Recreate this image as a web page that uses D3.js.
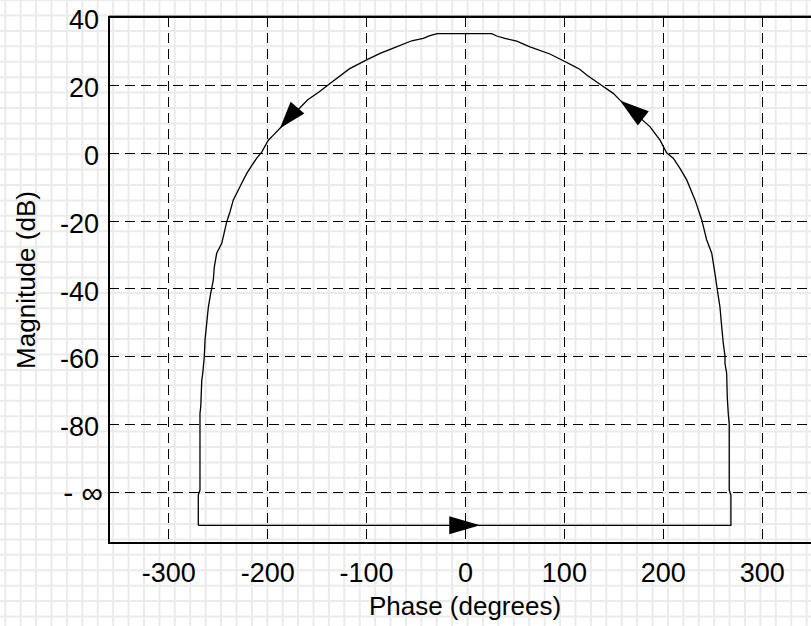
<!DOCTYPE html>
<html>
<head>
<meta charset="utf-8">
<script src="https://cdn.jsdelivr.net/npm/d3@7"></script>
<style>
	body { margin: 0; background: #ffffff; }
	svg { display: block; }
	text { font-family: "Liberation Sans", Arial, sans-serif; }
</style>
</head>
<body>
<div id="containerNichols"></div>
<script>

// tick values and labels for both axes
var xTicks = [-300, -200, -100, 0, 100, 200, 300];
var xTickLabels = ["-300", "-200", "-100", "0", "100", "200", "300"];
var yTicks = [40, 20, 0, -20, -40, -60, -80, -100];
var yTickLabels = ["40", "20", "0", "-20", "-40", "-60", "-80", "-\u00a0\u221e"];

// nichols contour (starts bottom left, runs to the right, up, over the top and down)
var phase = [-269.7, 268.9, 268.9, 267.2, 267.2, 266.2, 265.2, 264.6, 262.9, 262.9, 261.2,
	259.6, 257.8, 255.2, 252.8, 249.5, 244.4, 239.4, 232.6, 224.2, 217.4, 210.6, 203.9,
	197.2, 187.0, 156.7, 149.9, 136.5, 123.1, 116.0, 109.5, 99.4, 85.9, 65.7, 52.3, 40.4,
	32.1, 27.0, -28.0, -35.4, -42.2, -53.9, -72.5, -85.9, -100.0, -117.0, -136.5, -148.0,
	-159.0, -187.1, -193.8, -198.9, -205.6, -210.6, -215.7, -220.7, -225.8, -234.3, -237.6,
	-241.0, -244.4, -246.0, -251.1, -253.5, -254.5, -257.1, -259.5, -261.2, -262.9, -263.6,
	-265.2, -266.2, -267.2, -268.0, -268.0, -269.7, -269.7];
var magnitude = [-109.8, -109.8, -100.9, -99.4, -79.9, -76.8, -71.9, -65.0, -62.1, -59.9, -56.2,
	-51.3, -45.4, -40.5, -35.6, -29.6, -25.7, -19.8, -13.9, -8.0, -4.6, -1.6, 0.0,
	3.7, 7.7, 15.5, 17.5, 20.2, 22.9, 24.6, 25.6, 27.1, 29.1, 31.2, 32.9, 33.7,
	34.4, 35.1, 35.1, 34.5, 33.7, 33.0, 30.8, 29.3, 27.3, 24.7, 20.4, 17.8,
	15.6, 7.2, 5.2, 3.7, 0.2, -1.6, -3.8, -6.1, -9.0, -13.9, -17.4,
	-20.4, -24.7, -26.7, -29.6, -33.6, -37.5, -41.4, -45.4, -50.3, -55.2, -59.9,
	-65.0, -67.0, -74.8, -76.8, -99.4, -100.9, -109.8];

// direction arrows on the contour: tail (base centre) and tip
var arrowTailPhase = [-15.9, 180.3, -169.4];
var arrowTailMag = [-109.8, 10.1, 13.3];
var arrowTipPhase = [15.2, 156.7, -187.1];
var arrowTipMag = [-109.8, 15.4, 7.2];

function drawNichols() {

	// characteristics for SVG element
	var width = 811;
	var height = 626;
	var leftMargin = 109;
	var rightEdge = 821;
	var topMargin = 17;
	var bottomEdge = 543;
	var paperStep = 15.41;

	var svg = d3.select("#containerNichols")
		.append("svg")
		.attr("width", width)
		.attr("height", height);

	// graph paper in the background
	var paper = svg.append("g")
		.attr("stroke", "#ebebeb")
		.attr("stroke-width", 2);
	paper.selectAll(".vpaper")
		.data(d3.range(5.3, width, paperStep))
		.enter()
		.append("line")
		.attr("x1", function(d) { return d; })
		.attr("x2", function(d) { return d; })
		.attr("y1", 0)
		.attr("y2", height);
	paper.selectAll(".hpaper")
		.data(d3.range(0.1, height, paperStep))
		.enter()
		.append("line")
		.attr("x1", 0)
		.attr("x2", width)
		.attr("y1", function(d) { return d; })
		.attr("y2", function(d) { return d; });

	// scales
	var x = d3.scaleLinear()
		.domain([-360, 360])
		.range([leftMargin, rightEdge]);
	var y = d3.scaleLinear()
		.domain([-115, 40])
		.range([bottomEdge, topMargin]);

	// dashed grid lines
	var grid = svg.append("g")
		.attr("stroke", "#000")
		.attr("stroke-width", 1)
		.attr("stroke-dasharray", "10,6")
		.attr("shape-rendering", "crispEdges");
	grid.selectAll(".xgrid")
		.data(xTicks)
		.enter()
		.append("line")
		.attr("x1", function(d) { return Math.round(x(d)) + 0.5; })
		.attr("x2", function(d) { return Math.round(x(d)) + 0.5; })
		.attr("y1", topMargin)
		.attr("y2", bottomEdge);
	grid.selectAll(".ygrid")
		.data(yTicks)
		.enter()
		.append("line")
		.attr("x1", leftMargin)
		.attr("x2", rightEdge)
		.attr("y1", function(d) { return Math.round(y(d)) + 0.5; })
		.attr("y2", function(d) { return Math.round(y(d)) + 0.5; });

	// faint double edge along the top of the box
	svg.append("line")
		.attr("x1", leftMargin)
		.attr("x2", width)
		.attr("y1", topMargin - 1.5)
		.attr("y2", topMargin - 1.5)
		.attr("stroke", "#9a9a9a")
		.attr("stroke-width", 1);

	// axes box
	svg.append("rect")
		.attr("x", leftMargin)
		.attr("y", topMargin)
		.attr("width", rightEdge - leftMargin)
		.attr("height", bottomEdge - topMargin)
		.attr("fill", "none")
		.attr("stroke", "#000")
		.attr("stroke-width", 2);

	// tick labels through d3 axes
	var xAxis = d3.axisBottom(x)
		.tickValues(xTicks)
		.tickFormat(function(d, i) { return xTickLabels[i]; })
		.tickSize(0)
		.tickPadding(19.5);
	var yAxis = d3.axisLeft(y)
		.tickValues(yTicks)
		.tickFormat(function(d, i) { return yTickLabels[i]; })
		.tickSize(0)
		.tickPadding(10);

	var gx = svg.append("g")
		.attr("transform", "translate(0," + bottomEdge + ")")
		.call(xAxis);
	var gy = svg.append("g")
		.attr("transform", "translate(" + leftMargin + ",0)")
		.call(yAxis);
	gx.select(".domain").remove();
	gy.select(".domain").remove();
	gx.attr("font-size", 27).attr("font-family", null);
	gy.attr("font-size", 27).attr("font-family", null);
	gy.selectAll("text").attr("dy", "0.43em");

	// the minus infinity label sits a bit further right and larger
	gy.selectAll("text")
		.filter(function(d) { return d == -100; })
		.attr("x", -6)
		.attr("font-size", 30)
		.attr("dy", "0.33em");

	// the contour itself
	var points = phase.map(function(p, i) { return [p, magnitude[i]]; });
	var line = d3.line()
		.x(function(d) { return x(d[0]); })
		.y(function(d) { return y(d[1]); });
	svg.append("path")
		.datum(points)
		.attr("d", line)
		.attr("fill", "none")
		.attr("stroke", "#000")
		.attr("stroke-width", 1.3);

	// arrow heads, built in pixel space from tail and tip
	var halfWidth = 9;
	svg.selectAll(".arrow")
		.data(arrowTipPhase)
		.enter()
		.append("polygon")
		.attr("points", function(d, i) {
			var tx = x(arrowTipPhase[i]), ty = y(arrowTipMag[i]);
			var bx = x(arrowTailPhase[i]), by = y(arrowTailMag[i]);
			var len = Math.sqrt((tx - bx) * (tx - bx) + (ty - by) * (ty - by));
			var nx = -(ty - by) / len, ny = (tx - bx) / len;
			return [[tx, ty], [bx + nx * halfWidth, by + ny * halfWidth],
				[bx - nx * halfWidth, by - ny * halfWidth]].join(" ");
		})
		.attr("fill", "#000");

	// axis labels
	svg.append("text")
		.attr("x", (leftMargin + rightEdge) / 2)
		.attr("y", 615)
		.attr("text-anchor", "middle")
		.attr("font-size", 26)
		.text("Phase (degrees)");
	svg.append("text")
		.attr("transform", "translate(35," + ((topMargin + bottomEdge) / 2) + ") rotate(-90)")
		.attr("text-anchor", "middle")
		.attr("font-size", 26)
		.text("Magnitude (dB)");
};

drawNichols();
</script>
</body>
</html>
